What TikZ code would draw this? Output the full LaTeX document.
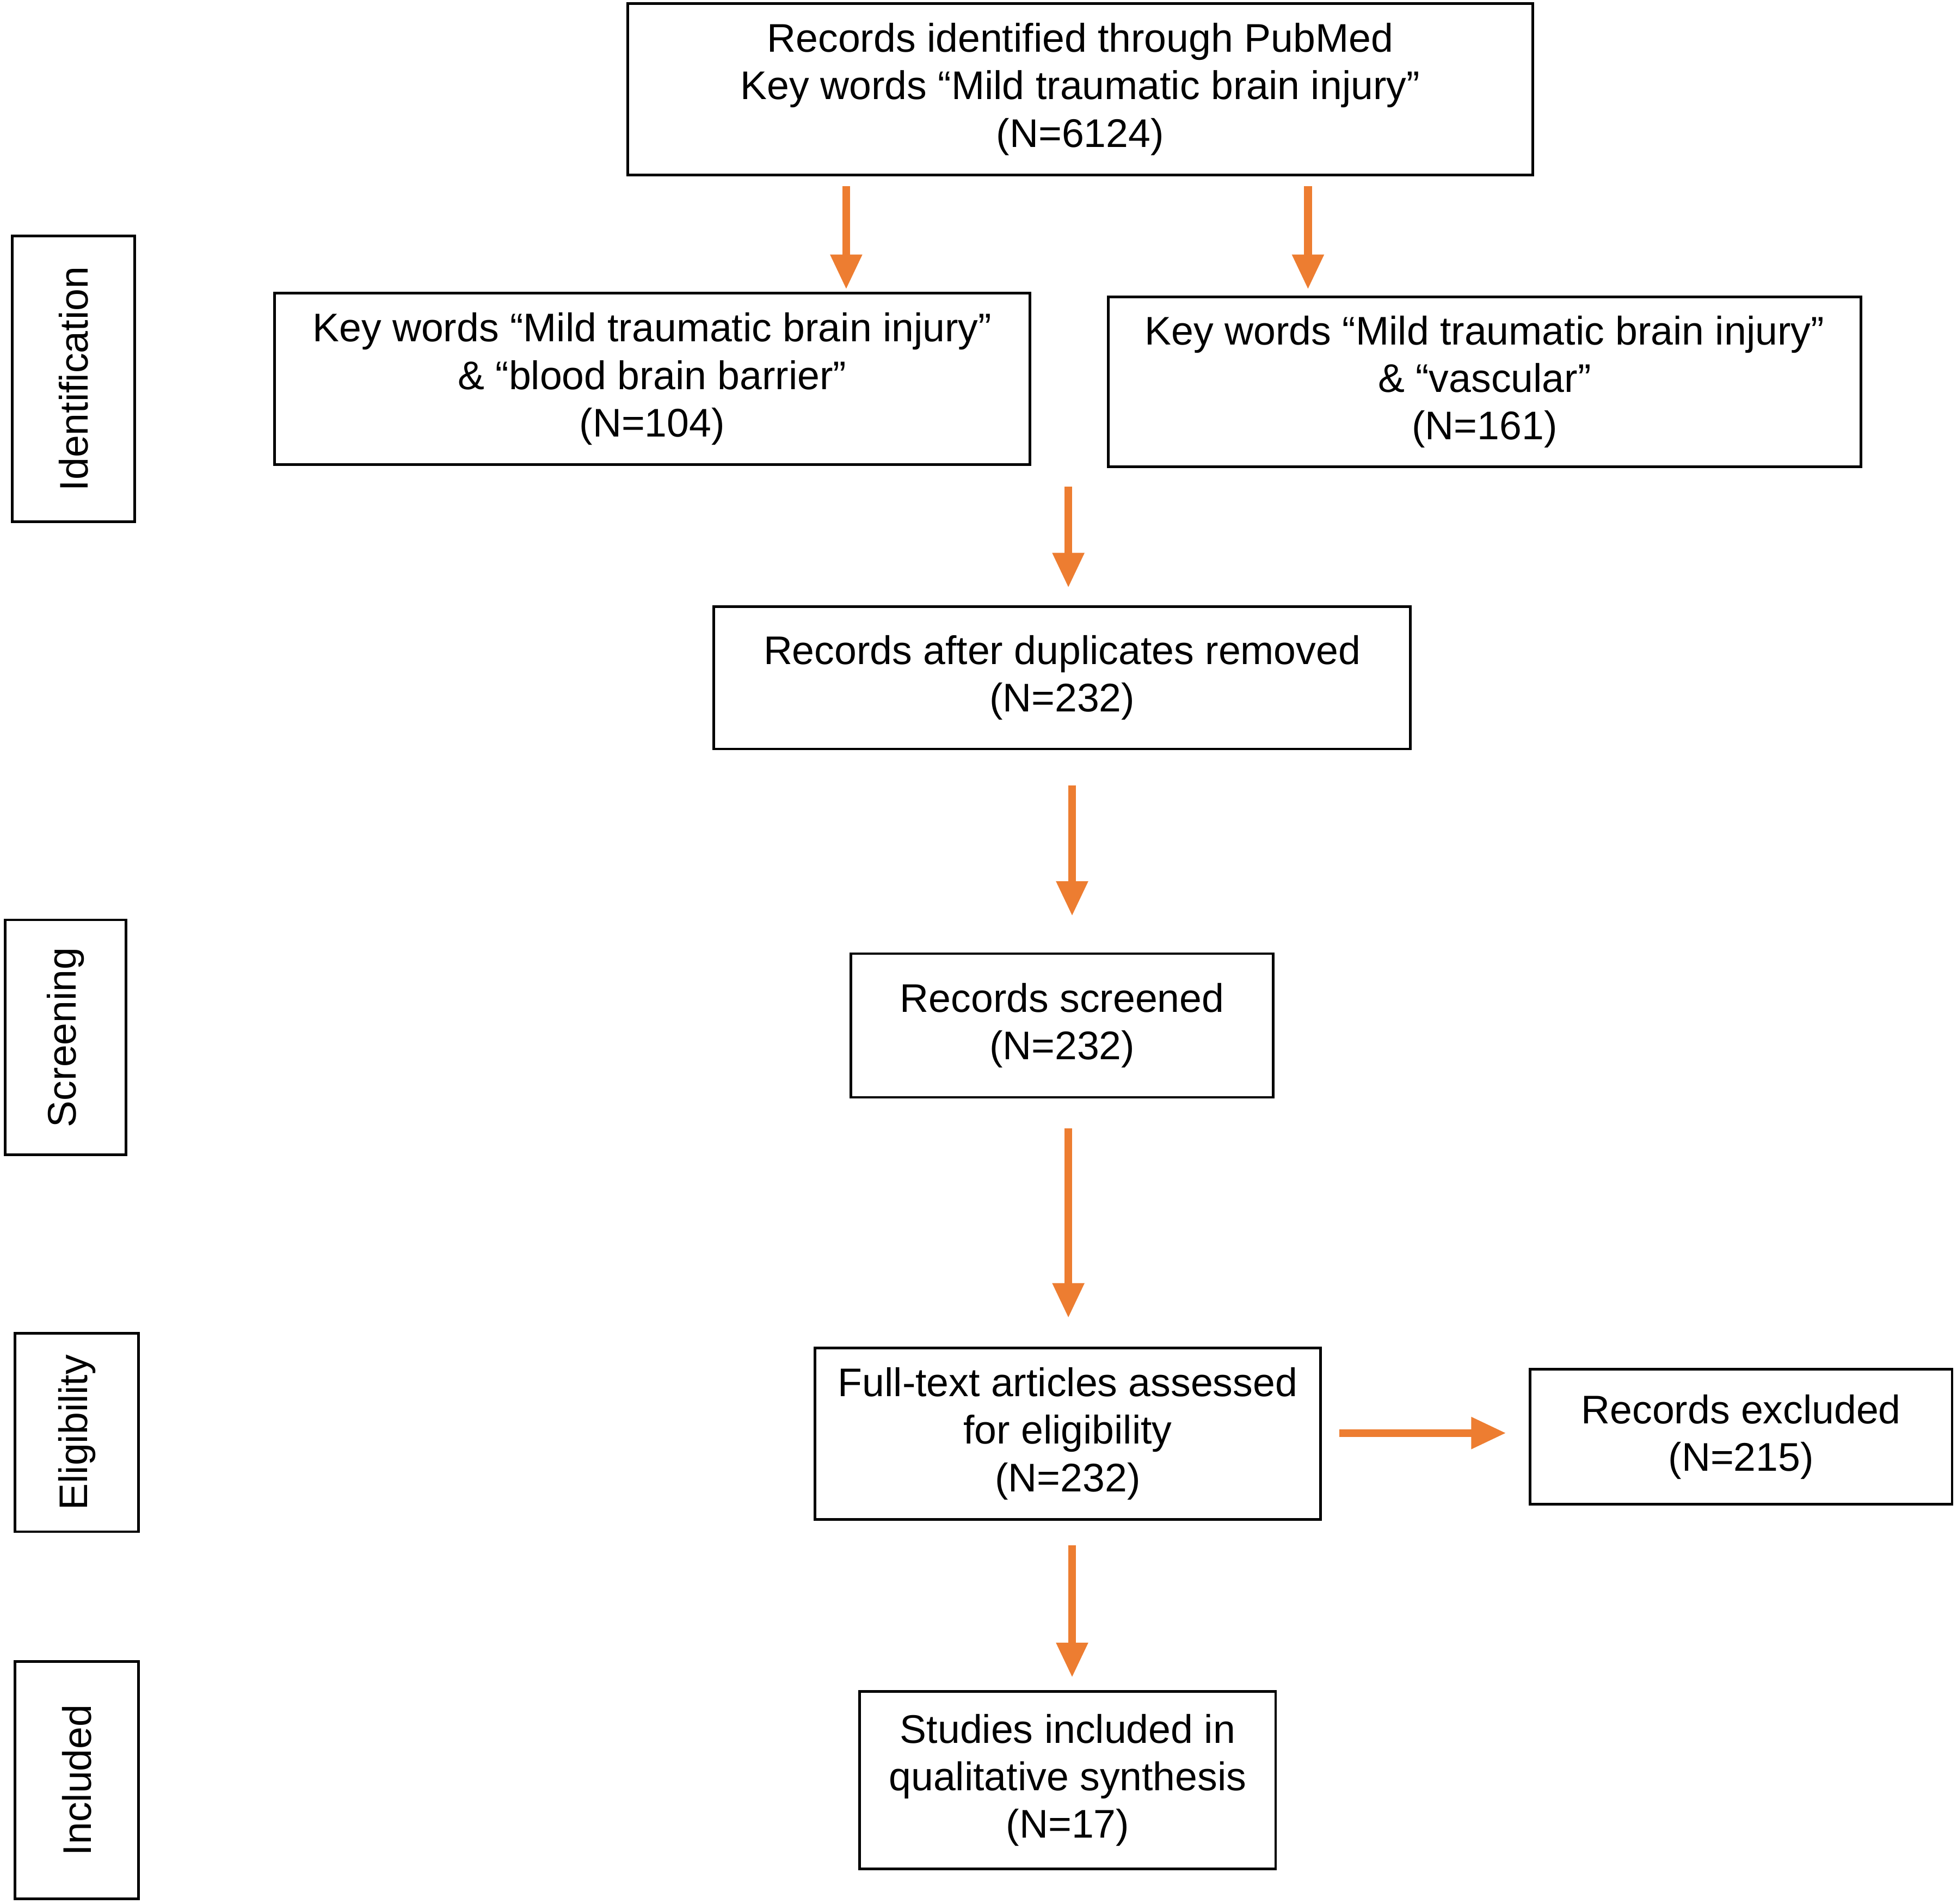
\documentclass[tikz,border=0pt]{standalone}
\usepackage{fontspec}
\setmainfont{Liberation Sans}
\usepackage{tikz}
\usetikzlibrary{arrows.meta,calc,positioning}
\definecolor{prismaorange}{HTML}{ED7D31}

\begin{document}
\begin{tikzpicture}[
        x=0.01cm,
        y=-0.01cm,
        box/.style={draw, line width=0.6pt, inner sep=0pt, align=center,
            font=\fontsize{9.1}{10.8}\selectfont},
        stage/.style={box, rotate=90},
        flow/.style={draw=prismaorange, line width=1.8pt,
            -{Triangle[width=0.24cm, length=0.28cm]}}
    ]
        \useasboundingbox (0,0) rectangle (1568,1525);
        % side labels
        \node[stage, minimum width=2.29cm, minimum height=0.98cm] (ident) at (59,303.5) {Identification};
        \node[stage, minimum width=1.88cm, minimum height=0.97cm] (screen) at (52.5,831) {Screening};
        \node[stage, minimum width=1.59cm, minimum height=0.99cm] (elig) at (61.5,1147.5) {Eligibility};
        \node[stage, minimum width=1.90cm, minimum height=0.99cm] (incl) at (61.5,1426) {Included};
        % flow boxes
        \node[box, minimum width=7.25cm, minimum height=1.37cm] (pubmed) at (865.5,71.5)
            {Records identified through PubMed\\Key words “Mild traumatic brain injury”\\(N=6124)};
        \node[box, minimum width=6.05cm, minimum height=1.37cm] (bbb) at (522.5,303.5)
            {Key words “Mild traumatic brain injury”\\\& “blood brain barrier”\\(N=104)};
        \node[box, minimum width=6.03cm, minimum height=1.36cm] (vasc) at (1189.5,306)
            {Key words “Mild traumatic brain injury”\\\& “vascular”\\(N=161)};
        \node[box, minimum width=5.58cm, minimum height=1.14cm] (dedup) at (851,543)
            {Records after duplicates removed\\(N=232)};
        \node[box, minimum width=3.38cm, minimum height=1.15cm] (screened) at (851,821.5)
            {Records screened\\(N=232)};
        \node[box, minimum width=4.05cm, minimum height=1.37cm] (fulltext) at (855.5,1148.5)
            {Full-text articles assessed\\for eligibility\\(N=232)};
        \node[box, minimum width=3.38cm, minimum height=1.08cm] (excluded) at (1395,1151)
            {Records excluded\\(N=215)};
        \node[box, minimum width=3.33cm, minimum height=1.42cm] (studies) at (855.5,1426)
            {Studies included in\\qualitative synthesis\\(N=17)};
        % arrows
        \coordinate (merge) at (856,390);
        \draw[flow] ($(pubmed.south)+(-187.5,8)$) -- ($(bbb.north)+(155.5,-2)$);
        \draw[flow] ($(pubmed.south)+(182.5,8)$) -- ($(vasc.north)+(-141.5,-5)$);
        \draw[flow] (merge) -- ($(dedup.north)+(5,-14)$);
        \draw[flow] ($(dedup.south)+(8,28)$) -- ($(screened.north)+(8,-29)$);
        \draw[flow] ($(screened.south)+(5,24)$) -- ($(fulltext.north)+(0.5,-23)$);
        \draw[flow] ($(fulltext.east)+(14,-0.5)$) -- ($(excluded.west)+(-18,-3)$);
        \draw[flow] ($(fulltext.south)+(3.5,20)$) -- ($(studies.north)+(3.5,-10)$);
    \end{tikzpicture}
\end{document}
